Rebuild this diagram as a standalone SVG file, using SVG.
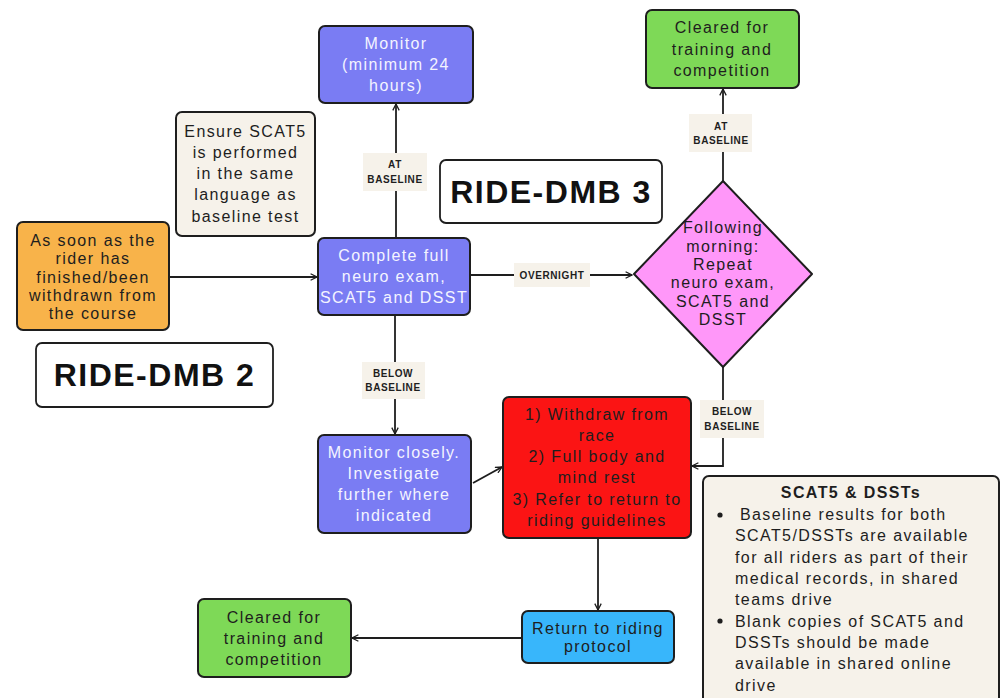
<svg xmlns="http://www.w3.org/2000/svg" width="1002" height="698" viewBox="0 0 1002 698">
<defs>
<marker id="ah" viewBox="0 0 10 10" refX="9" refY="5" markerWidth="8" markerHeight="8" markerUnits="userSpaceOnUse" orient="auto">
<path d="M1,1 L9,5 L1,9" fill="none" stroke="#1e1e1e" stroke-width="1.6"/>
</marker>
<style>
.box{stroke:#1e1e1e;stroke-width:2}
.t{font-family:"Liberation Sans",Arial,sans-serif;font-size:16px;letter-spacing:1.4px;text-anchor:middle;fill:#1e1e1e}
.s{text-anchor:start}
.w{fill:#f4f4ff}
.title{font-family:"Liberation Sans",Arial,sans-serif;font-size:32px;font-weight:bold;letter-spacing:1.5px;text-anchor:middle;fill:#111}
.lbl{font-family:"Liberation Sans",Arial,sans-serif;font-size:10px;font-weight:bold;letter-spacing:0.6px;text-anchor:middle;fill:#1e1e1e}
.lb{fill:#f6f2ea}
.c{fill:none;stroke:#1e1e1e;stroke-width:1.8}
.blue{fill:#7a7cf3}.cream{fill:#f6f2ea}.orange{fill:#f8b34a}.green{fill:#7ed957}.pink{fill:#ff97f9}.red{fill:#fb1414}.sky{fill:#38b6fb}
</style>
</defs>
<rect width="1002" height="698" fill="#ffffff"/>

<g id="connectors">
<line class="c" x1="169" y1="277" x2="317" y2="277" marker-end="url(#ah)"/>
<line class="c" x1="396" y1="238" x2="396" y2="104" marker-end="url(#ah)"/>
<line class="c" x1="470" y1="275" x2="632" y2="275" marker-end="url(#ah)"/>
<line class="c" x1="723" y1="181" x2="723" y2="89" marker-end="url(#ah)"/>
<line class="c" x1="395" y1="315" x2="395" y2="434" marker-end="url(#ah)"/>
<polyline class="c" points="723,367 723,466 692,466" marker-end="url(#ah)"/>
<line class="c" x1="473" y1="483" x2="502" y2="467" marker-end="url(#ah)"/>
<line class="c" x1="598" y1="538" x2="598" y2="610" marker-end="url(#ah)"/>
<line class="c" x1="522" y1="638" x2="352" y2="638" marker-end="url(#ah)"/>
</g>

<g id="label-at-baseline-1">
<rect class="lb" x="363" y="153" width="64" height="38"/>
<text class="lbl" x="395" y="168">AT</text>
<text class="lbl" x="395" y="183">BASELINE</text>
</g>
<g id="label-overnight">
<rect class="lb" x="514" y="263" width="76" height="24"/>
<text class="lbl" x="552" y="279">OVERNIGHT</text>
</g>
<g id="label-at-baseline-2">
<rect class="lb" x="689" y="114" width="63" height="38"/>
<text class="lbl" x="721" y="130">AT</text>
<text class="lbl" x="721" y="144">BASELINE</text>
</g>
<g id="label-below-baseline-1">
<rect class="lb" x="362" y="362" width="63" height="37"/>
<text class="lbl" x="393" y="377">BELOW</text>
<text class="lbl" x="393" y="391">BASELINE</text>
</g>
<g id="label-below-baseline-2">
<rect class="lb" x="700" y="400" width="64" height="38"/>
<text class="lbl" x="732" y="415">BELOW</text>
<text class="lbl" x="732" y="430">BASELINE</text>
</g>

<g id="monitor">
<rect class="box blue" x="319" y="26" width="154" height="77" rx="6"/>
<text class="t w" x="396" y="49">Monitor</text>
<text class="t w" x="396" y="70">(minimum 24</text>
<text class="t w" x="396" y="91">hours)</text>
</g>

<g id="ensure-note">
<rect class="box cream" x="176" y="112" width="139" height="124" rx="6"/>
<text class="t" x="245.5" y="137">Ensure SCAT5</text>
<text class="t" x="245.5" y="158">is performed</text>
<text class="t" x="245.5" y="179">in the same</text>
<text class="t" x="245.5" y="200">language as</text>
<text class="t" x="245.5" y="222">baseline test</text>
</g>

<g id="start">
<rect class="box orange" x="17" y="222" width="152" height="108" rx="6"/>
<text class="t" x="93" y="246">As soon as the</text>
<text class="t" x="93" y="264">rider has</text>
<text class="t" x="93" y="283">finished/been</text>
<text class="t" x="93" y="301">withdrawn from</text>
<text class="t" x="93" y="319">the course</text>
</g>

<g id="complete-exam">
<rect class="box blue" x="318" y="238" width="152" height="77" rx="6"/>
<text class="t w" x="394" y="261">Complete full</text>
<text class="t w" x="394" y="282">neuro exam,</text>
<text class="t w" x="394" y="303">SCAT5 and DSST</text>
</g>

<g id="title-dmb3">
<rect x="440" y="160" width="222" height="63" rx="6" fill="#fff" stroke="#1e1e1e" stroke-width="1.8"/>
<text class="title" x="551" y="203">RIDE-DMB 3</text>
</g>

<g id="cleared-top">
<rect class="box green" x="646" y="10" width="153" height="78" rx="6"/>
<text class="t" x="722" y="33">Cleared for</text>
<text class="t" x="722" y="55">training and</text>
<text class="t" x="722" y="76">competition</text>
</g>

<g id="following-morning">
<path class="box pink" d="M723,181 L812,274 L723,367 L634,274 Z" stroke-linejoin="round"/>
<text class="t" x="723" y="233">Following</text>
<text class="t" x="723" y="252">morning:</text>
<text class="t" x="723" y="270">Repeat</text>
<text class="t" x="723" y="288">neuro exam,</text>
<text class="t" x="723" y="307">SCAT5 and</text>
<text class="t" x="723" y="325">DSST</text>
</g>

<g id="title-dmb2">
<rect x="36" y="343" width="237" height="64" rx="6" fill="#fff" stroke="#1e1e1e" stroke-width="1.8"/>
<text class="title" x="154.5" y="386">RIDE-DMB 2</text>
</g>

<g id="monitor-closely">
<rect class="box blue" x="318" y="435" width="153" height="98" rx="6"/>
<text class="t w" x="394" y="458">Monitor closely.</text>
<text class="t w" x="394" y="479">Investigate</text>
<text class="t w" x="394" y="500">further where</text>
<text class="t w" x="394" y="521">indicated</text>
</g>

<g id="withdraw">
<rect class="box red" x="503" y="397" width="188" height="141" rx="6"/>
<text class="t" x="597" y="420">1) Withdraw from</text>
<text class="t" x="597" y="441">race</text>
<text class="t" x="597" y="462">2) Full body and</text>
<text class="t" x="597" y="483">mind rest</text>
<text class="t" x="597" y="505">3) Refer to return to</text>
<text class="t" x="597" y="526">riding guidelines</text>
</g>

<g id="return-protocol">
<rect class="box sky" x="522" y="611" width="152" height="52" rx="6"/>
<text class="t" x="598" y="634">Return to riding</text>
<text class="t" x="598" y="652">protocol</text>
</g>

<g id="cleared-bottom">
<rect class="box green" x="198" y="599" width="153" height="78" rx="6"/>
<text class="t" x="274" y="623">Cleared for</text>
<text class="t" x="274" y="644">training and</text>
<text class="t" x="274" y="665">competition</text>
</g>

<g id="scat5-note">
<rect class="box cream" x="703" y="476" width="296" height="240" rx="6"/>
<text class="t" x="851" y="498" font-weight="bold">SCAT5 &amp; DSSTs</text>
<circle cx="720" cy="515" r="2.6" fill="#1e1e1e"/>
<circle cx="720" cy="621" r="2.6" fill="#1e1e1e"/>
<text class="t s" x="740" y="520">Baseline results for both</text>
<text class="t s" x="735" y="541">SCAT5/DSSTs are available</text>
<text class="t s" x="735" y="563">for all riders as part of their</text>
<text class="t s" x="735" y="584">medical records, in shared</text>
<text class="t s" x="735" y="605">teams drive</text>
<text class="t s" x="735" y="627">Blank copies of SCAT5 and</text>
<text class="t s" x="735" y="648">DSSTs should be made</text>
<text class="t s" x="735" y="669">available in shared online</text>
<text class="t s" x="735" y="691">drive</text>
</g>
</svg>
